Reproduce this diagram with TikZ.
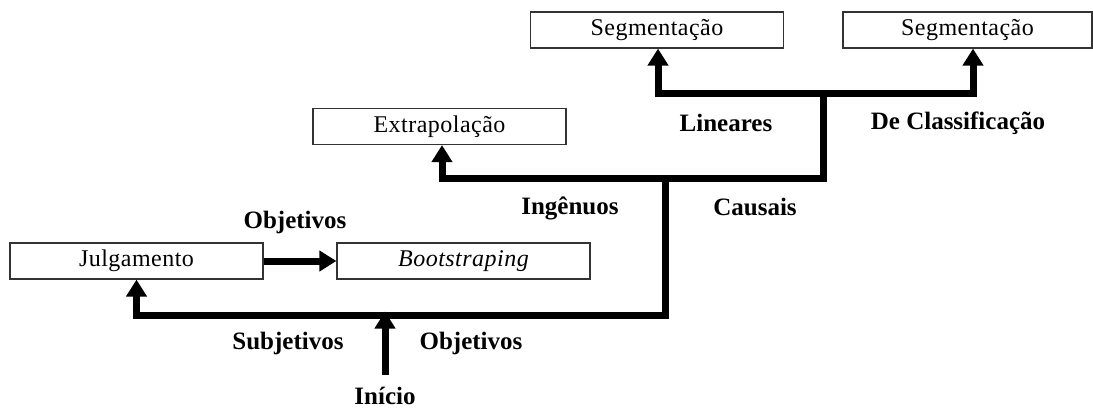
\documentclass[tikz,border=0pt]{standalone}
\usepackage{fontspec}
\setmainfont{Liberation Serif}
\newfontfamily\boxfont[LetterSpace=2]{Liberation Serif}
\usetikzlibrary{arrows.meta}

\tikzset{
  box/.style={draw=black!80, line width=1.2pt, rectangle, inner sep=0pt,
    minimum width=253pt, minimum height=36pt,
    font=\boxfont\fontsize{24}{28}\selectfont},
  lbl/.style={inner sep=0pt, font=\bfseries\fontsize{25}{30}\selectfont},
  flow/.style={line width=7pt, line join=miter, black},
  tip/.style={-{Triangle[width=20pt,length=17pt]}},
  tipboth/.style={{Triangle[width=20pt,length=17pt]}-{Triangle[width=20pt,length=17pt]}}
}

\begin{document}
\begin{tikzpicture}[x=1pt,y=-1pt]
\useasboundingbox (0,0) rectangle (1093,410);

% boxes
\node[box] (seg1) at (657,30) {Segmentação};
\node[box, minimum width=249pt] (seg2) at (967.5,30) {Segmentação};
\node[box] (extr) at (439.5,126.5) {Extrapolação};
\node[box] (julg) at (136.5,261) {Julgamento};
\node[box] (boot) at (463.5,261) {\itshape Bootstraping};

% junction points of the tree
\coordinate (start) at (385,375);
\coordinate (low) at (385,315);
\coordinate (mid) at (665,315);
\coordinate (cA) at (823,178);
\coordinate (cB) at (823,93);
\coordinate (eA) at (442,178);
\coordinate (sA) at (658,93);
\coordinate (sB) at (973,93);

% main trunk from Julgamento to the right Segmentação
\draw[flow, tipboth] (julg.south) |- (mid) |- (cA) |- (sB) -- (sB |- seg2.south);
% branch to Extrapolação
\draw[flow, tip] (cA) -- (eA) -- (eA |- extr.south);
% branch to the left Segmentação
\draw[flow, tip] (cB) -- (sA) -- (sA |- seg1.south);
% entry arrow
\draw[flow, tip] (start) -- ([yshift=3.5pt]low);
% Julgamento to Bootstraping
\draw[flow, tip] (julg.east) -- (boot.west);

% labels
\node[lbl] (lobj1) at (295,222) {Objetivos};
\node[lbl] (lsub) at (288,343) {Subjetivos};
\node[lbl] (lobj2) at (471,343) {Objetivos};
\node[lbl] (lini) at (385,396) {Início};
\node[lbl] (ling) at (570,208) {Ingênuos};
\node[lbl] (lcau) at (755,207) {Causais};
\node[lbl] (llin) at (726,123) {Lineares};
\node[lbl] (lcla) at (958,123) {De Classificação};
\end{tikzpicture}
\end{document}
